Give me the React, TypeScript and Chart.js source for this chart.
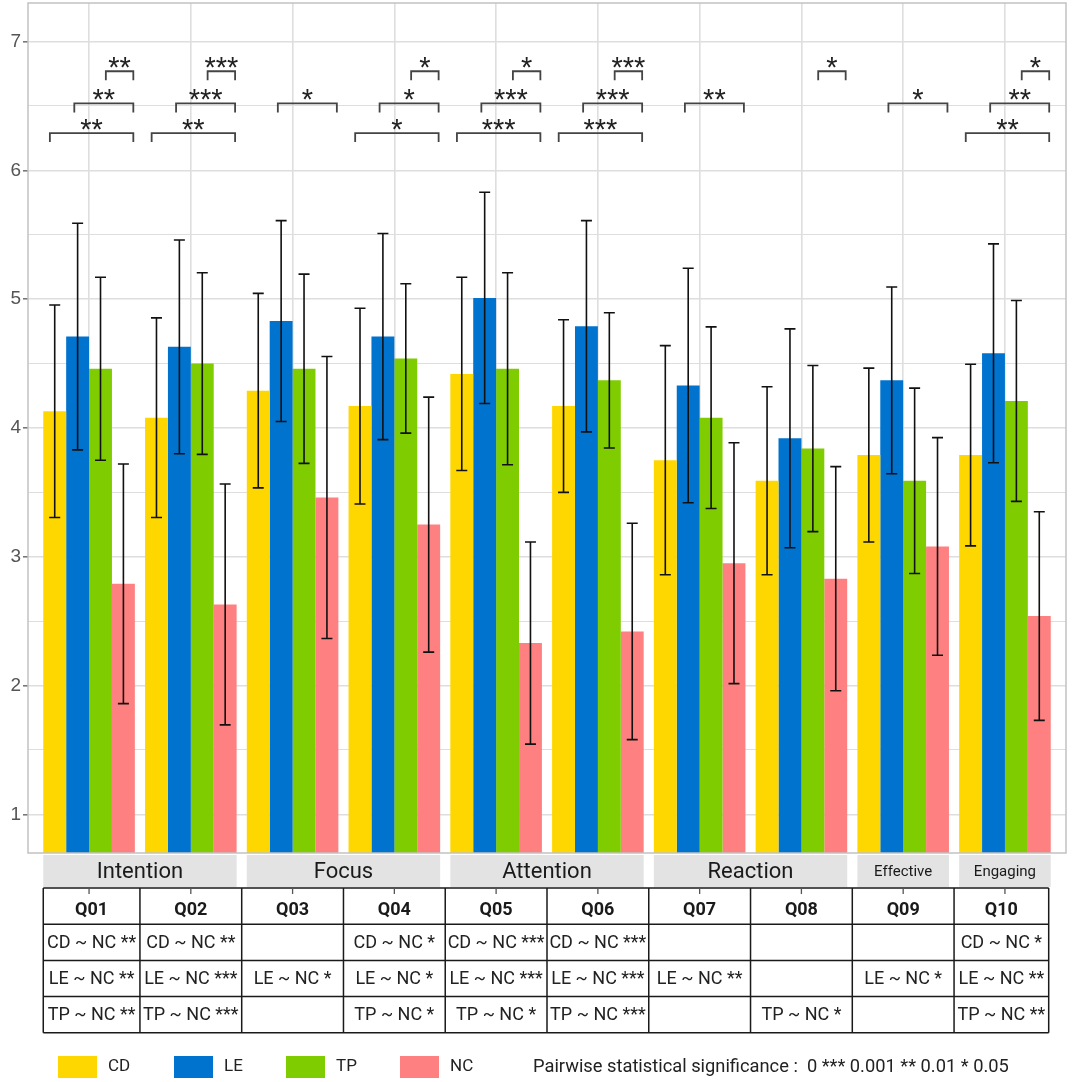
import React, { useEffect, useRef } from "react";
import { Chart, registerables } from "chart.js";

Chart.register(...registerables);

// ---------------- data ----------------
const questions = ["Q01", "Q02", "Q03", "Q04", "Q05", "Q06", "Q07", "Q08", "Q09", "Q10"];
const groups = ["CD", "LE", "TP", "NC"];
const groupColors = ["#FFD700", "#0073CF", "#7FCC00", "#FF8080"];

const cdMean = [4.13, 4.08, 4.29, 4.17, 4.42, 4.17, 3.75, 3.59, 3.79, 3.79];
const cdSd = [0.825, 0.775, 0.755, 0.76, 0.75, 0.67, 0.89, 0.73, 0.675, 0.705];
const leMean = [4.71, 4.63, 4.83, 4.71, 5.01, 4.79, 4.33, 3.92, 4.37, 4.58];
const leSd = [0.88, 0.83, 0.78, 0.8, 0.82, 0.82, 0.91, 0.85, 0.725, 0.85];
const tpMean = [4.46, 4.5, 4.46, 4.54, 4.46, 4.37, 4.08, 3.84, 3.59, 4.21];
const tpSd = [0.71, 0.705, 0.735, 0.58, 0.745, 0.525, 0.705, 0.645, 0.72, 0.78];
const ncMean = [2.79, 2.63, 3.46, 3.25, 2.33, 2.42, 2.95, 2.83, 3.08, 2.54];
const ncSd = [0.93, 0.935, 1.095, 0.99, 0.785, 0.84, 0.935, 0.87, 0.845, 0.81];

const yTickValues = [1, 1.5, 2, 2.5, 3, 3.5, 4, 4.5, 5, 5.5, 6, 6.5, 7];

// facet strips
const facetLabels = ["Intention", "Focus", "Attention", "Reaction", "Effective", "Engaging"];
const facetFirst = [0, 2, 4, 6, 8, 9];
const facetLast = [1, 3, 5, 7, 8, 9];

// significance brackets (question index, compared group vs NC, label)
const bracketQ = [0, 0, 0, 1, 1, 1, 2, 3, 3, 3, 4, 4, 4, 5, 5, 5, 6, 7, 8, 9, 9, 9];
const bracketFrom = ["CD", "LE", "TP", "CD", "LE", "TP", "LE", "CD", "LE", "TP", "CD", "LE", "TP", "CD", "LE", "TP", "LE", "TP", "LE", "CD", "LE", "TP"];
const bracketLabel = ["**", "**", "**", "**", "***", "***", "*", "*", "*", "*", "***", "***", "*", "***", "***", "***", "**", "*", "*", "**", "**", "*"];
const bracketLevel: Record<string, number> = { CD: 6.29, LE: 6.52, TP: 6.77 };

// table rows
const cdRow = ["CD ~ NC **", "CD ~ NC **", "", "CD ~ NC *", "CD ~ NC ***", "CD ~ NC ***", "", "", "", "CD ~ NC *"];
const leRow = ["LE ~ NC **", "LE ~ NC ***", "LE ~ NC *", "LE ~ NC *", "LE ~ NC ***", "LE ~ NC ***", "LE ~ NC **", "", "LE ~ NC *", "LE ~ NC **"];
const tpRow = ["TP ~ NC **", "TP ~ NC ***", "", "TP ~ NC *", "TP ~ NC *", "TP ~ NC ***", "", "TP ~ NC *", "", "TP ~ NC **"];

const sigCaption = "Pairwise statistical significance :  0 *** 0.001 ** 0.01 * 0.05";

const means = [cdMean, leMean, tpMean, ncMean];
const sds = [cdSd, leSd, tpSd, ncSd];

// ---------------- component ----------------
export default function App() {
  const ref = useRef<HTMLCanvasElement | null>(null);

  useEffect(() => {
    if (!ref.current) return;

    const decor = {
      id: "decor",
      afterDatasetsDraw(chart: any) {
        const ctx = chart.ctx as CanvasRenderingContext2D;
        const xs = chart.scales.x;
        const ys = chart.scales.y;
        // error bars
        ctx.save();
        ctx.strokeStyle = "#111";
        ctx.lineWidth = 1.6;
        chart.data.datasets.forEach((_ds: any, di: number) => {
          const meta = chart.getDatasetMeta(di);
          meta.data.forEach((el: any, i: number) => {
            const m = means[di][i];
            const s = sds[di][i];
            const x = el.x;
            const yt = ys.getPixelForValue(m + s);
            const yb = ys.getPixelForValue(m - s);
            ctx.beginPath();
            ctx.moveTo(x, yt);
            ctx.lineTo(x, yb);
            ctx.moveTo(x - 5.5, yt);
            ctx.lineTo(x + 5.5, yt);
            ctx.moveTo(x - 5.5, yb);
            ctx.lineTo(x + 5.5, yb);
            ctx.stroke();
          });
        });
        // brackets
        const startOff: Record<string, number> = { CD: -0.385, LE: -0.145, TP: 0.165 };
        const endOff = 0.435;
        ctx.strokeStyle = "#444";
        ctx.lineWidth = 1.8;
        ctx.fillStyle = "#222";
        ctx.font = "29px 'Liberation Sans'";
        ctx.textAlign = "center";
        ctx.textBaseline = "alphabetic";
        bracketQ.forEach((q, k) => {
          const g = bracketFrom[k];
          const lvl = bracketLevel[g];
          const x0 = xs.getPixelForValue(q + startOff[g]);
          const x1 = xs.getPixelForValue(q + endOff);
          const y = ys.getPixelForValue(lvl);
          const yTip = ys.getPixelForValue(lvl - 0.07);
          ctx.beginPath();
          ctx.moveTo(x0, yTip);
          ctx.lineTo(x0, y);
          ctx.lineTo(x1, y);
          ctx.lineTo(x1, yTip);
          ctx.stroke();
          ctx.fillText(bracketLabel[k], (x0 + x1) / 2, y + 6);
        });
        ctx.restore();
      },
      afterDraw(chart: any) {
        const ctx = chart.ctx as CanvasRenderingContext2D;
        const xs = chart.scales.x;
        const ca = chart.chartArea;
        ctx.save();
        // panel border
        ctx.strokeStyle = "#C2C2C2";
        ctx.lineWidth = 1.5;
        ctx.strokeRect(ca.left, ca.top, ca.right - ca.left, ca.bottom - ca.top);

        // strips
        const sTop = ca.bottom + 2;
        const sH = 32;
        facetLabels.forEach((lab, f) => {
          const x0 = xs.getPixelForValue(facetFirst[f] - 0.45);
          const x1 = xs.getPixelForValue(facetLast[f] + 0.45);
          ctx.fillStyle = "#E3E3E3";
          ctx.fillRect(x0, sTop, x1 - x0, sH);
          ctx.fillStyle = "#1A1A1A";
          const single = facetFirst[f] === facetLast[f];
          ctx.font = single ? "15px Roboto" : "22px Roboto";
          ctx.textAlign = "center";
          ctx.textBaseline = "middle";
          ctx.fillText(lab, (x0 + x1) / 2, sTop + sH / 2 + 1);
        });

        // table
        const tTop = ca.bottom + 35;
        const rowH = 36.2;
        const bounds: number[] = [];
        for (let k = 0; k <= questions.length; k++) {
          let v = k - 0.5;
          if (k === 0) v = -0.45;
          if (k === questions.length) v = questions.length - 1 + 0.43;
          bounds.push(xs.getPixelForValue(v));
        }
        ctx.strokeStyle = "#1a1a1a";
        ctx.lineWidth = 1.5;
        ctx.beginPath();
        for (let r = 0; r <= 4; r++) {
          ctx.moveTo(bounds[0], tTop + r * rowH);
          ctx.lineTo(bounds[bounds.length - 1], tTop + r * rowH);
        }
        bounds.forEach((b) => {
          ctx.moveTo(b, tTop);
          ctx.lineTo(b, tTop + 4 * rowH);
        });
        ctx.stroke();
        // axis ticks at top of header cells
        ctx.strokeStyle = "#555";
        ctx.lineWidth = 1.3;
        ctx.beginPath();
        questions.forEach((_q, i) => {
          const x = xs.getPixelForValue(i);
          ctx.moveTo(x, tTop);
          ctx.lineTo(x, tTop + 6);
        });
        ctx.stroke();

        ctx.textAlign = "center";
        ctx.textBaseline = "middle";
        ctx.fillStyle = "#1A1A1A";
        ctx.font = "bold 18px Roboto";
        questions.forEach((q, i) => {
          const cx = (bounds[i] + bounds[i + 1]) / 2;
          ctx.fillText(q, cx, tTop + rowH / 2 + 4);
        });
        ctx.font = "18px Roboto";
        ctx.fillStyle = "#222";
        [cdRow, leRow, tpRow].forEach((row, r) => {
          row.forEach((txt, i) => {
            if (!txt) return;
            const cx = (bounds[i] + bounds[i + 1]) / 2;
            ctx.fillText(txt, cx, tTop + (r + 1) * rowH + rowH / 2 + 1);
          });
        });

        // legend
        const ly = 1056;
        const boxX = [58, 174, 286, 400];
        ctx.font = "17px Roboto";
        ctx.textAlign = "left";
        ctx.textBaseline = "middle";
        groups.forEach((g, i) => {
          ctx.fillStyle = groupColors[i];
          ctx.fillRect(boxX[i], ly, 39, 22);
          ctx.fillStyle = "#222";
          ctx.fillText(g, boxX[i] + 50, ly + 11);
        });
        ctx.font = "18.3px Roboto";
        ctx.fillText(sigCaption, 533, ly + 11);
        ctx.restore();
      },
    };

    const chart = new Chart(ref.current, {
      type: "bar",
      data: {
        datasets: groups.map((g, di) => ({
          label: g,
          data: means[di].map((v, i) => ({ x: i, y: v })),
          backgroundColor: groupColors[di],
          borderWidth: 0,
          categoryPercentage: 0.9,
          barPercentage: 1.0,
        })),
      },
      options: {
        animation: false,
        responsive: false,
        devicePixelRatio: 1,
        layout: { padding: { left: 0, top: 3, right: 6, bottom: 229 } },
        plugins: { legend: { display: false }, tooltip: { enabled: false } },
        scales: {
          x: {
            type: "linear",
            min: -0.6,
            max: 9.6,
            offset: false,
            afterBuildTicks: (s: any) => {
              s.ticks = questions.map((_q, i) => ({ value: i }));
            },
            afterFit: (s: any) => {
              s.height = 0;
              s.paddingLeft = 0;
              s.paddingRight = 0;
            },
            ticks: { display: false },
            grid: { color: "#DEDEDE", lineWidth: 1.6, drawTicks: false, offset: false },
            border: { display: false },
          },
          y: {
            type: "linear",
            min: 0.7,
            max: 7.3,
            afterBuildTicks: (s: any) => {
              s.ticks = yTickValues.map((v) => ({ value: v }));
            },
            afterFit: (s: any) => {
              s.width = 28;
              s.paddingTop = 0;
              s.paddingBottom = 0;
            },
            ticks: {
              autoSkip: false,
              padding: 2,
              color: "#555",
              font: { family: "'Liberation Sans'", size: 19 },
              callback: (v: any) => (Number.isInteger(v) ? String(v) : ""),
            },
            grid: {
              color: "#DEDEDE",
              lineWidth: (c: any) => (c.tick && Number.isInteger(c.tick.value) ? 1.6 : 1.1),
              tickLength: 5,
              tickColor: (c: any) => (c.tick && Number.isInteger(c.tick.value) ? "#777" : "rgba(0,0,0,0)"),
            },
            border: { display: false },
          },
        },
      },
      plugins: [decor],
    } as any);

    return () => chart.destroy();
  }, []);

  return (
    <div style={{ position: "absolute", left: 0, top: 0, width: 1072, height: 1082, background: "#fff" }}>
      <canvas ref={ref} width={1072} height={1082} style={{ display: "block", width: 1072, height: 1082 }} />
    </div>
  );
}
